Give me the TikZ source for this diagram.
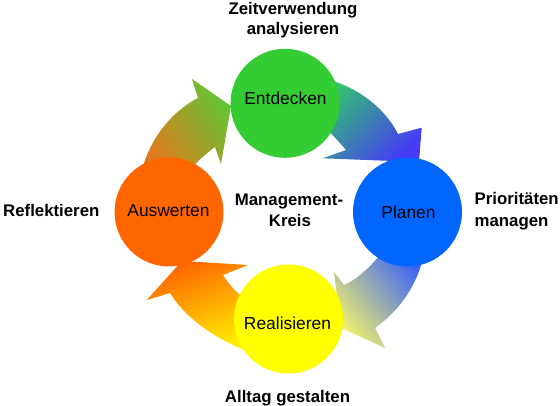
\documentclass[tikz,border=0pt]{standalone}
\usepackage{fontspec}
\setmainfont{Liberation Sans}
\definecolor{cE}{RGB}{51,204,51}
\definecolor{cP}{RGB}{0,102,255}
\definecolor{cA}{RGB}{255,102,0}
\definecolor{cR}{RGB}{255,255,0}
\definecolor{aOneS}{RGB}{232,118,28}
\definecolor{aOneE}{RGB}{100,196,52}
\definecolor{aTwoS}{RGB}{50,195,110}
\definecolor{aTwoE}{RGB}{70,60,245}
\definecolor{aThrS}{RGB}{60,100,245}
\definecolor{aThrE}{RGB}{240,240,110}
\definecolor{aFouS}{RGB}{255,238,0}
\definecolor{aFouE}{RGB}{255,100,0}
\begin{document}
\begin{tikzpicture}[x=1pt,y=-1pt,
  circ/.style={circle, minimum size=109pt, inner sep=0pt, draw=none},
  ctext/.style={font=\fontsize{17.4}{20}\selectfont, inner sep=0pt, anchor=base},
  lbl/.style={font=\fontsize{16.8}{20}\selectfont\bfseries, inner sep=0pt, anchor=base},
  lblw/.style={lbl, anchor=base west}]
\fill[white] (0,0) rectangle (560,406);
\useasboundingbox (0,0) rectangle (560,406);

% arrows
\shade[left color=aOneS, right color=aOneE, shading angle=123]
  (140,178) .. controls (148,138) and (174,110) .. (198,98) -- (192,79) -- (231,106)
  -- (221,164) -- (215,147) .. controls (205,154) and (192,166) .. (182,180) -- cycle;
\shade[left color=aTwoS, right color=aTwoE, shading angle=46.4]
  (320,78) .. controls (355,84) and (385,108) .. (398,134) -- (421.7,127.7) -- (419,162)
  -- (322.7,158.3) -- (346,150) .. controls (340,143) and (330,132) .. (318,120) -- cycle;
\shade[left color=aThrS, right color=aThrE, shading angle=308.6]
  (425,250) .. controls (418,285) and (400,310) .. (375,328) -- (385,348) -- (341,328)
  -- (334,272) -- (344,285) .. controls (358,279) and (374,264) .. (385,248) -- cycle;
\shade[left color=aFouS, right color=aFouE, shading angle=200]
  (250,352) .. controls (222,342) and (188,322) .. (170,293) -- (146.7,300) -- (182,261)
  -- (248,265) -- (223,275) .. controls (228,284) and (240,297) .. (252,304) -- cycle;

% circles
\node[circ, fill=cE] (E) at (285,103.3) {};
\node[circ, fill=cP] (P) at (407.5,212) {};
\node[circ, fill=cA] (A) at (169,212) {};
\node[circ, fill=cR] (R) at (288.5,319) {};

\node[ctext] (Et) at (285.5,105) {Entdecken};
\node[ctext] (Pt) at (408.5,218.3) {Planen};
\node[ctext] (At) at (168.5,216.7) {Auswerten};
\node[ctext] (Rt) at (287.5,330) {Realisieren};

% labels
\node[lbl] (z1) at (293,15) {Zeitverwendung};
\node[lbl] (z2) at (293,35) {analysieren};
\node[lblw] (re) at (3,216.7) {Reflektieren};
\node[lblw] (p1) at (474.5,205) {Prioritäten};
\node[lblw] (p2) at (474.5,226.5) {managen};
\node[lbl] (al) at (287.5,402) {Alltag gestalten};
\node[lbl] (m1) at (289,205.7) {Management-};
\node[lbl] (m2) at (290,226.7) {Kreis};
\end{tikzpicture}
\end{document}
